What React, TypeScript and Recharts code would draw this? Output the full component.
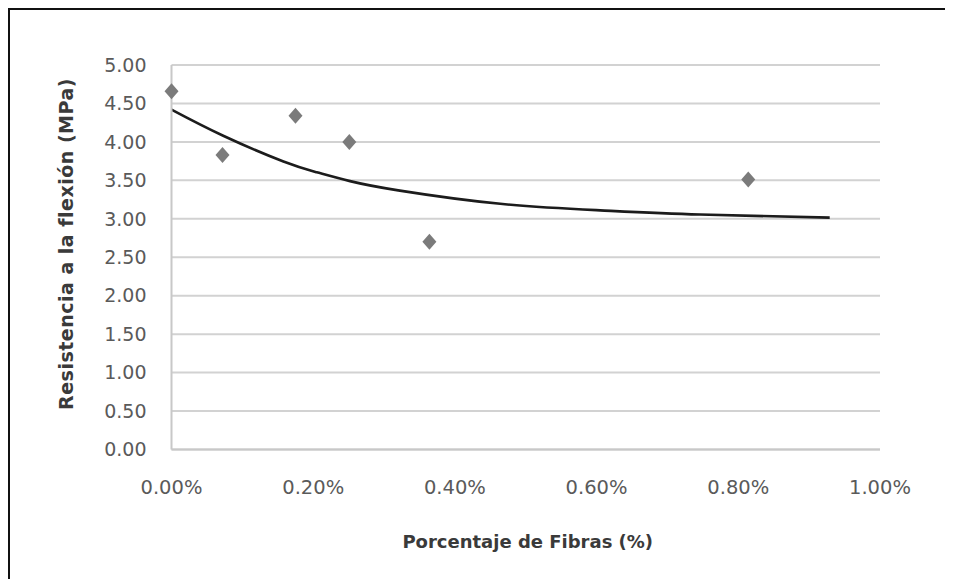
import {
  CartesianGrid,
  ComposedChart,
  Line,
  Scatter,
  XAxis,
  YAxis,
} from "recharts";

// ensayos: % de fibra vs resistencia a la flexión (MPa)
const fibras = [0, 0.072, 0.175, 0.251, 0.364, 0.814];
const resistencia = [4.66, 3.83, 4.34, 4.0, 2.7, 3.51];

// curva de tendencia
const tendenciaX = [0, 0.073, 0.158, 0.205, 0.252, 0.32, 0.464, 0.605, 0.746, 0.929];
const tendenciaY = [4.42, 4.08, 3.745, 3.605, 3.49, 3.37, 3.195, 3.11, 3.055, 3.015];

const yTicks = [0, 0.5, 1, 1.5, 2, 2.5, 3, 3.5, 4, 4.5, 5];
const xTicks = [0, 0.2, 0.4, 0.6, 0.8, 1];

const puntos = fibras.map((x, i) => ({ x, y: resistencia[i] }));
const tendencia = tendenciaX.map((x, i) => ({ x, y: tendenciaY[i] }));

const FONT = "'DejaVu Sans', sans-serif";

const Rombo = (props: any) => {
  const { cx, cy } = props;
  if (cx == null || cy == null) return null;
  return (
    <polygon
      points={`${cx},${cy - 8} ${cx + 7},${cy} ${cx},${cy + 8} ${cx - 7},${cy}`}
      fill="#7b7b7b"
    />
  );
};

const TituloY = (props: any) => {
  const { viewBox } = props;
  const cx = viewBox.x + 56;
  const cy = 234;
  return (
    <text
      x={cx}
      y={cy}
      transform={`rotate(-90 ${cx} ${cy})`}
      textAnchor="middle"
      dominantBaseline="central"
      fontFamily={FONT}
      fontWeight="bold"
      fontSize={19}
      letterSpacing={0.5}
      fill="#3a3a3a"
    >
      Resistencia a la flexión (MPa)
    </text>
  );
};

const TituloX = (props: any) => {
  const { viewBox } = props;
  const cx = viewBox.x + viewBox.width / 2 + 2;
  return (
    <text
      x={cx}
      y={531}
      textAnchor="middle"
      dominantBaseline="central"
      fontFamily={FONT}
      fontWeight="bold"
      fontSize={18}
      fill="#3a3a3a"
    >
      Porcentaje de Fibras (%)
    </text>
  );
};

export default function App() {
  return (
    <div
      style={{
        width: 945,
        height: 571,
        boxSizing: "border-box",
        borderTop: "2px solid #111",
        borderLeft: "2px solid #111",
        background: "#fff",
      }}
    >
      <ComposedChart
        width={943}
        height={569}
        margin={{ top: 55, right: 73, left: 0, bottom: 69.5 }}
      >
        <CartesianGrid vertical={false} stroke="#d2d2d2" strokeWidth={2} />
        <XAxis
          type="number"
          dataKey="x"
          domain={[0, 1]}
          ticks={xTicks}
          height={60}
          tickSize={0}
          tickMargin={31}
          axisLine={{ stroke: "#c8c8c8", strokeWidth: 2 }}
          tickLine={false}
          tick={{ fontFamily: FONT, fontSize: 19.5, fill: "#5a5a5a" }}
          tickFormatter={(v: number) => `${v.toFixed(2)}%`}
          label={<TituloX />}
        />
        <YAxis
          type="number"
          dataKey="y"
          domain={[0, 5]}
          ticks={yTicks}
          width={161.5}
          tickSize={0}
          tickMargin={25}
          axisLine={{ stroke: "#c8c8c8", strokeWidth: 2 }}
          tickLine={false}
          tick={{ fontFamily: FONT, fontSize: 19, fill: "#5a5a5a" }}
          tickFormatter={(v: number) => v.toFixed(2)}
          label={<TituloY />}
        />
        <Scatter
          data={puntos}
          dataKey="y"
          shape={<Rombo />}
          isAnimationActive={false}
        />
        <Line
          data={tendencia}
          dataKey="y"
          type="natural"
          stroke="#1c1c1c"
          strokeWidth={2.6}
          dot={false}
          activeDot={false}
          isAnimationActive={false}
        />
      </ComposedChart>
    </div>
  );
}
